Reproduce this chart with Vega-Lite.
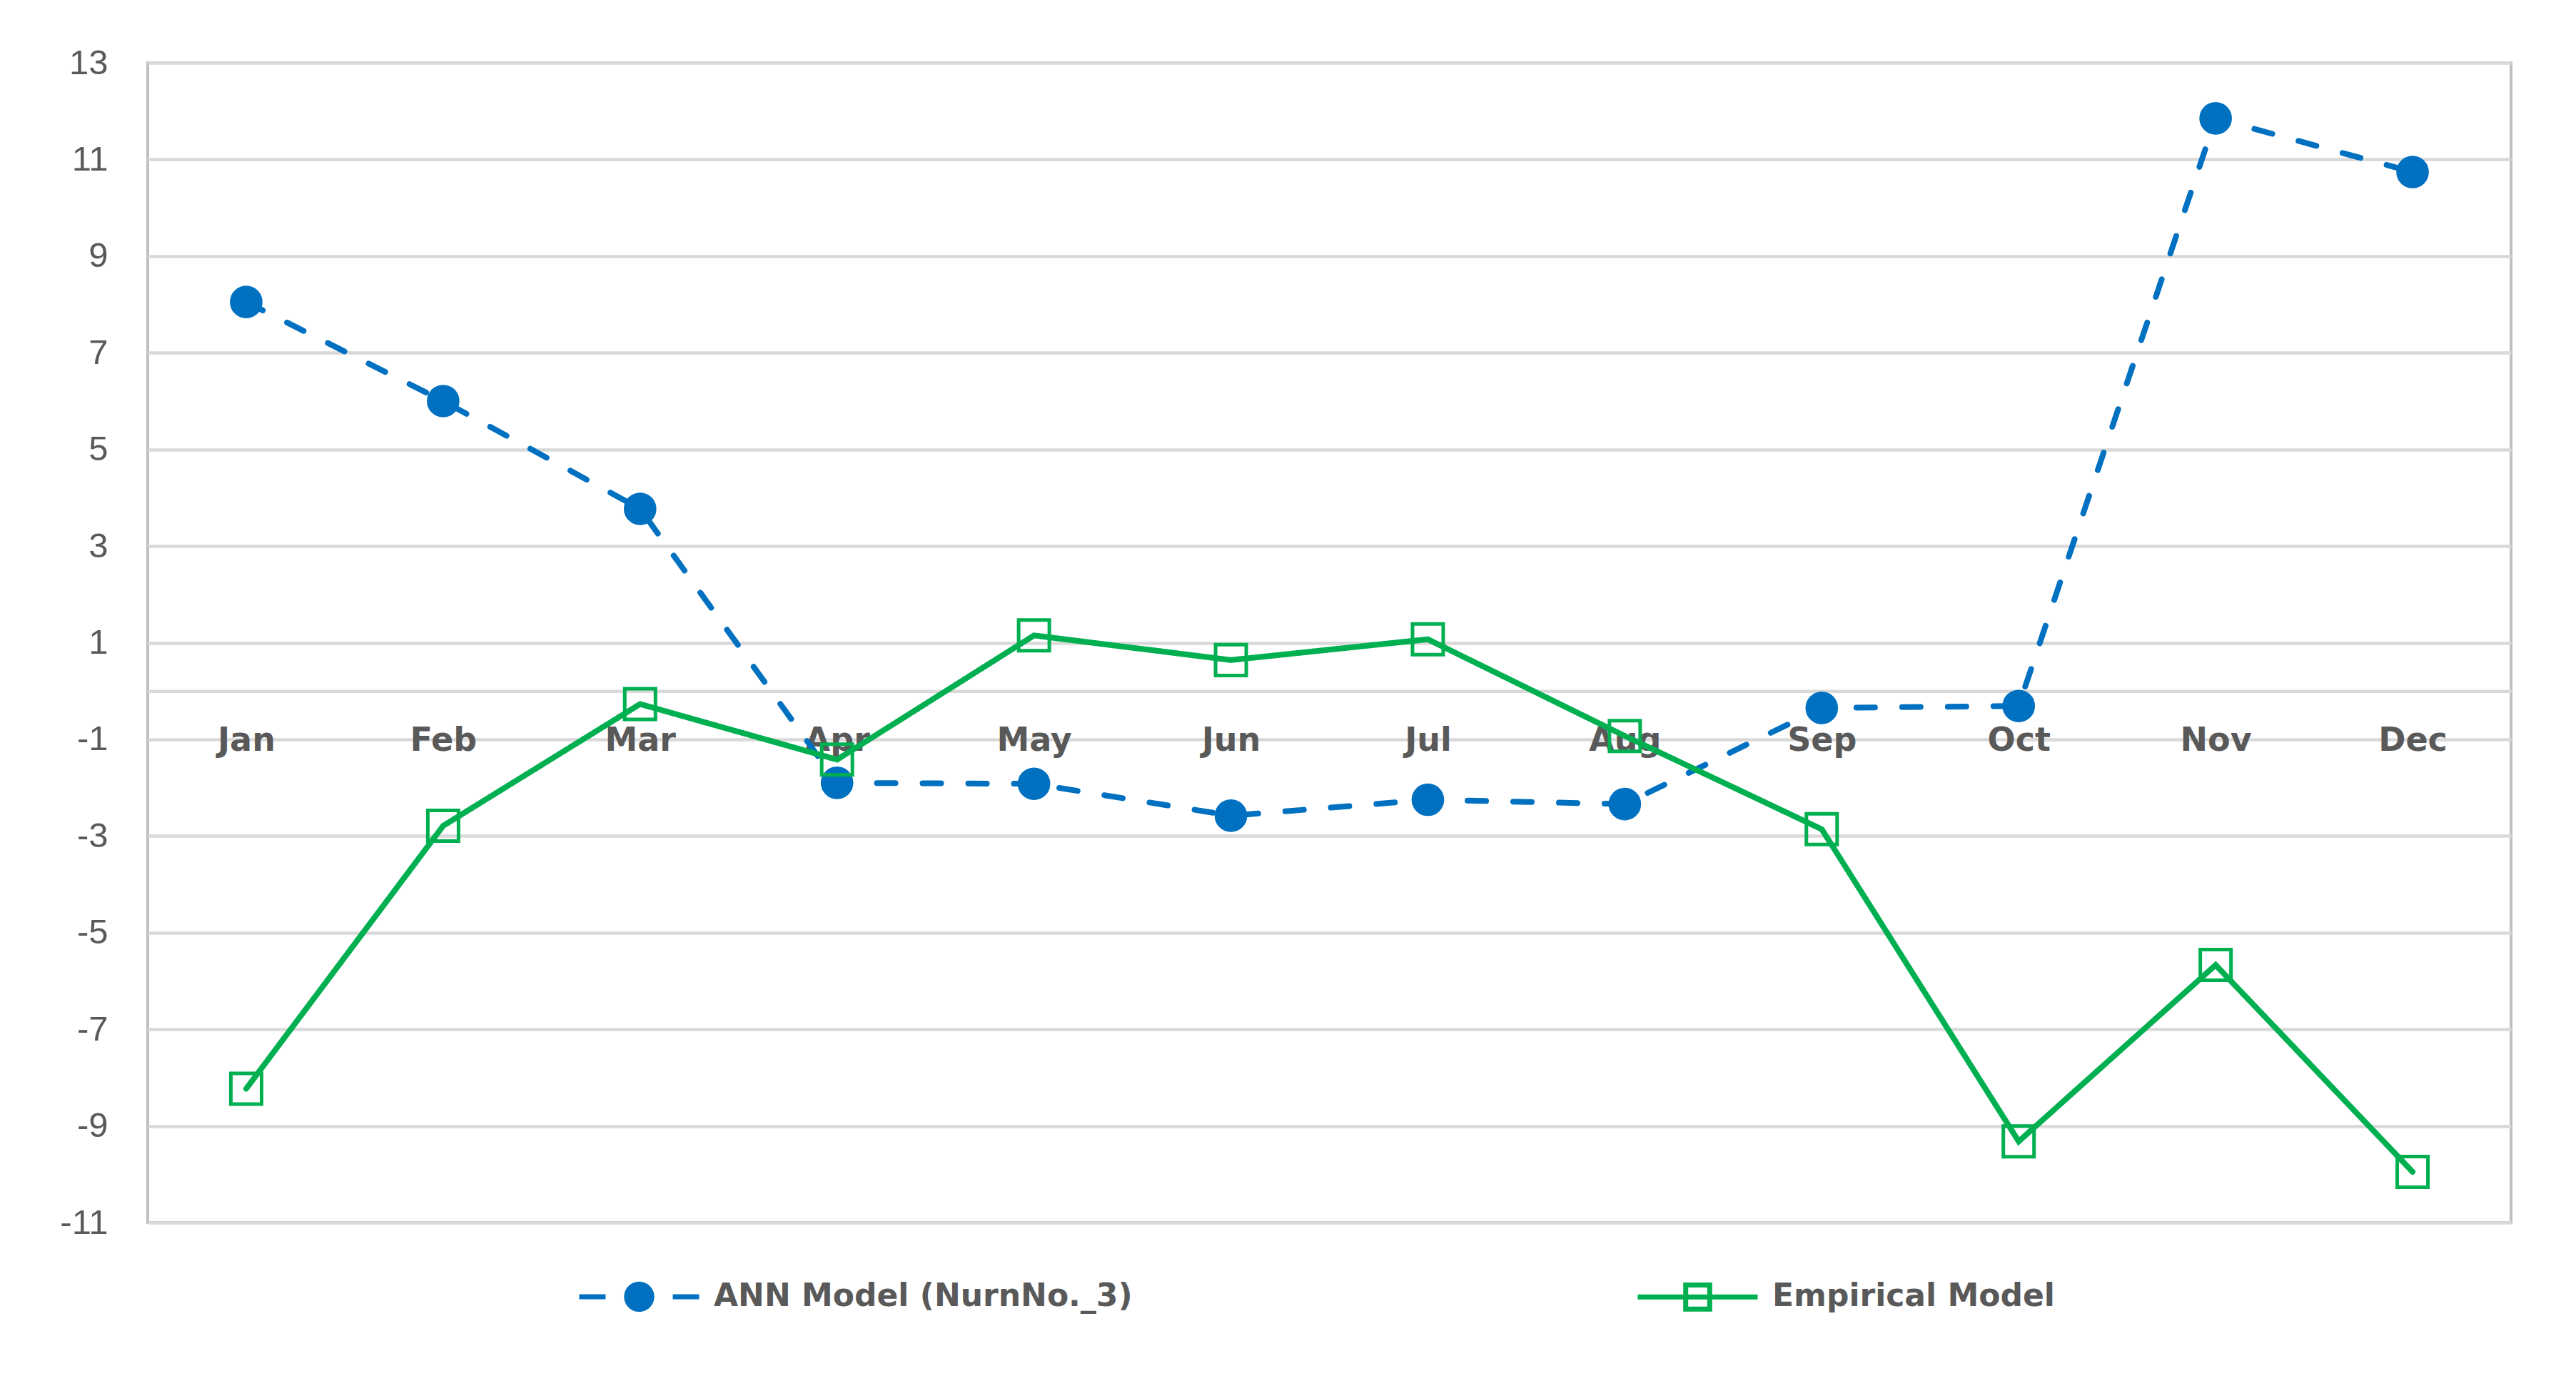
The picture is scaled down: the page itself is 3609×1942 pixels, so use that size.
{
  "$schema": "https://vega.github.io/schema/vega-lite/v6.json",
  "width": 3311,
  "height": 1625,
  "autosize": {"type": "none"},
  "padding": {"left": 207, "top": 88, "right": 91, "bottom": 229},
  "background": "white",
  "config": {
    "view": {"stroke": "#bfbfbf", "strokeWidth": 4}
  },
  "data": {
    "values": [
      {"month": "Jan", "series": "ANN Model (NurnNo._3)", "value": 8.05},
      {"month": "Feb", "series": "ANN Model (NurnNo._3)", "value": 6.0},
      {"month": "Mar", "series": "ANN Model (NurnNo._3)", "value": 3.77},
      {"month": "Apr", "series": "ANN Model (NurnNo._3)", "value": -1.9},
      {"month": "May", "series": "ANN Model (NurnNo._3)", "value": -1.92},
      {"month": "Jun", "series": "ANN Model (NurnNo._3)", "value": -2.58},
      {"month": "Jul", "series": "ANN Model (NurnNo._3)", "value": -2.25},
      {"month": "Aug", "series": "ANN Model (NurnNo._3)", "value": -2.34},
      {"month": "Sep", "series": "ANN Model (NurnNo._3)", "value": -0.35},
      {"month": "Oct", "series": "ANN Model (NurnNo._3)", "value": -0.31},
      {"month": "Nov", "series": "ANN Model (NurnNo._3)", "value": 11.85},
      {"month": "Dec", "series": "ANN Model (NurnNo._3)", "value": 10.74},
      {"month": "Jan", "series": "Empirical Model", "value": -8.23},
      {"month": "Feb", "series": "Empirical Model", "value": -2.79},
      {"month": "Mar", "series": "Empirical Model", "value": -0.27},
      {"month": "Apr", "series": "Empirical Model", "value": -1.42},
      {"month": "May", "series": "Empirical Model", "value": 1.15},
      {"month": "Jun", "series": "Empirical Model", "value": 0.64},
      {"month": "Jul", "series": "Empirical Model", "value": 1.07},
      {"month": "Aug", "series": "Empirical Model", "value": -0.93},
      {"month": "Sep", "series": "Empirical Model", "value": -2.86},
      {"month": "Oct", "series": "Empirical Model", "value": -9.32},
      {"month": "Nov", "series": "Empirical Model", "value": -5.67},
      {"month": "Dec", "series": "Empirical Model", "value": -9.95}
    ]
  },
  "encoding": {
    "x": {
      "field": "month",
      "type": "ordinal",
      "sort": ["Jan", "Feb", "Mar", "Apr", "May", "Jun", "Jul", "Aug", "Sep", "Oct", "Nov", "Dec"],
      "scale": {"type": "point", "padding": 0.5},
      "axis": {
        "title": null,
        "orient": "bottom",
        "offset": -744.8,
        "domain": true,
        "domainColor": "#d9d9d9",
        "domainWidth": 4.5,
        "ticks": false,
        "grid": false,
        "labelAngle": 0,
        "labelFont": "DejaVu Sans",
        "labelFontWeight": "bold",
        "labelFontSize": 46,
        "labelColor": "#595959",
        "labelPadding": 47
      }
    },
    "y": {
      "field": "value",
      "type": "quantitative",
      "scale": {"domain": [-11, 13], "nice": false, "zero": false},
      "axis": {
        "title": null,
        "values": [-11, -9, -7, -5, -3, -1, 1, 3, 5, 7, 9, 11, 13],
        "labelExpr": "'' + datum.value",
        "domain": false,
        "ticks": false,
        "grid": true,
        "gridColor": "#d9d9d9",
        "gridWidth": 4.5,
        "labelFont": "Liberation Sans",
        "labelFontSize": 49,
        "labelColor": "#595959",
        "labelPadding": 56
      }
    },
    "color": {
      "field": "series",
      "type": "nominal",
      "scale": {
        "domain": ["ANN Model (NurnNo._3)", "Empirical Model"],
        "range": ["#0070C0", "#00B050"]
      },
      "legend": {
        "title": null,
        "orient": "none",
        "legendX": 601,
        "legendY": 1641,
        "direction": "horizontal",
        "padding": 0,
        "symbolSize": 28224,
        "symbolStrokeWidth": 6,
        "labelOffset": 17,
        "columnPadding": 693,
        "labelFont": "DejaVu Sans",
        "labelFontWeight": "bold",
        "labelFontSize": 44,
        "labelColor": "#595959",
        "labelLimit": 0,
        "encode": {
          "symbols": {
            "update": {
              "shape": {"signal": "datum.value === 'Empirical Model' ? 'M-1,0 L1,0 M-0.2,-0.2 L0.2,-0.2 L0.2,0.2 L-0.2,0.2 Z' : 'M-1,0 L-0.56,0 M0.56,0 L1,0 M0.21,0 A0.21,0.21 0 1,1 -0.21,0 A0.21,0.21 0 1,1 0.21,0 Z'"},
              "fill": {"signal": "datum.value === 'Empirical Model' ? 'transparent' : '#0070C0'"},
              "stroke": {"signal": "datum.value === 'Empirical Model' ? '#00B050' : '#0070C0'"},
              "strokeDash": {"value": [1, 0]},
              "strokeWidth": {"value": 7},
              "opacity": {"value": 1}
            }
          }
        }
      }
    }
  },
  "layer": [
    {
      "mark": {"type": "line", "strokeWidth": 8, "strokeCap": "round"},
      "encoding": {
        "strokeDash": {
          "condition": {"test": "datum.series === 'ANN Model (NurnNo._3)'", "value": [26, 38]},
          "value": [1, 0]
        }
      }
    },
    {
      "mark": {"type": "point", "filled": false, "opacity": 1, "strokeWidth": 5},
      "encoding": {
        "shape": {
          "condition": {"test": "datum.series === 'Empirical Model'", "value": "square"},
          "value": "circle"
        },
        "fill": {
          "condition": {"test": "datum.series === 'Empirical Model'", "value": "transparent"},
          "value": "#0070C0"
        },
        "size": {
          "condition": {"test": "datum.series === 'Empirical Model'", "value": 1850},
          "value": 1650
        }
      }
    }
  ]
}
